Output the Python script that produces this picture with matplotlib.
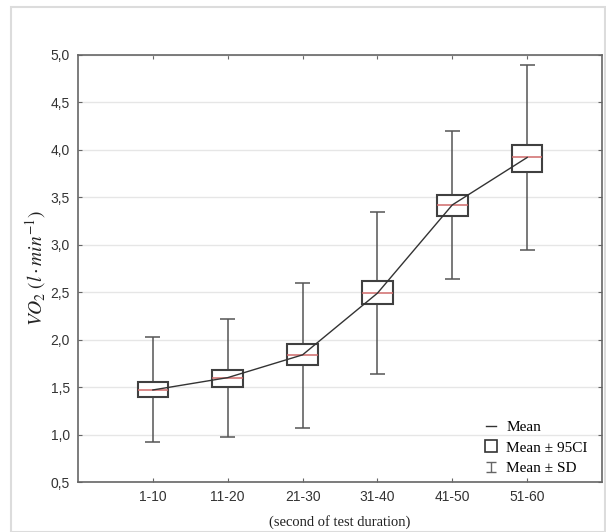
import matplotlib
matplotlib.use("Agg")
import matplotlib.pyplot as plt
from matplotlib.lines import Line2D
from matplotlib.patches import Rectangle
from matplotlib.path import Path
import numpy as np

plt.rcParams["mathtext.fontset"] = "stix"

categories = ["1-10", "11-20", "21-30", "31-40", "41-50", "51-60"]
mean = [1.47, 1.60, 1.84, 2.49, 3.42, 3.92]
ci_low = [1.40, 1.50, 1.73, 2.38, 3.30, 3.77]
ci_high = [1.55, 1.68, 1.95, 2.62, 3.52, 4.05]
sd_low = [0.92, 0.97, 1.07, 1.64, 2.64, 2.95]
sd_high = [2.03, 2.22, 2.60, 3.35, 4.20, 4.89]
yticks = [0.5, 1.0, 1.5, 2.0, 2.5, 3.0, 3.5, 4.0, 4.5, 5.0]

W, H = 606, 532
fig = plt.figure(figsize=(W / 100, H / 100), dpi=100)
ax = fig.add_axes([78 / W, (H - 482) / H, (602 - 78) / W, (482 - 55) / H])

x = np.arange(1, len(categories) + 1)
box_w = 0.41
cap_w = 0.2
edge = "#404040"

ax.set_xlim(0, 7)
ax.set_ylim(0.5, 5.0)
ax.set_yticks(yticks)
ax.set_yticklabels([f"{v:.1f}".replace(".", ",") for v in yticks])
ax.set_xticks(x)
ax.set_xticklabels(categories)
ax.yaxis.grid(True, color="#e6e6e6", lw=1.0)
ax.set_axisbelow(True)

for xi, m, cl, ch, sl, sh in zip(x, mean, ci_low, ci_high, sd_low, sd_high):
    ax.vlines(xi, sl, cl, color="#555555", lw=1.1, zorder=2)
    ax.vlines(xi, ch, sh, color="#555555", lw=1.1, zorder=2)
    ax.hlines([sl, sh], xi - cap_w / 2, xi + cap_w / 2, color="#555555", lw=1.1, zorder=2)
    ax.add_patch(Rectangle((xi - box_w / 2, cl), box_w, ch - cl, facecolor="white",
                           edgecolor=edge, lw=1.5, zorder=3))
    ax.hlines(m, xi - box_w / 2, xi + box_w / 2, color="#d06a6a", lw=1.1, zorder=4)

ax.plot(x, mean, color="#333333", lw=1.0, zorder=5)

for s in ax.spines.values():
    s.set_color("#666666")
    s.set_linewidth(1.2)

ax.tick_params(axis="both", direction="in", length=3, color="#666666",
               top=True, right=True, labelsize=10, labelcolor="#333333", pad=6)
for lab in ax.get_xticklabels() + ax.get_yticklabels():
    lab.set_fontfamily("Liberation Sans")

ax.set_xlabel("(second of test duration)", fontfamily="Liberation Serif",
              fontsize=10.5, color="#222222", labelpad=8)
ax.set_ylabel(r"$VO_2\;(l\cdot min^{-1})$", fontsize=14, color="#222222", labelpad=2)

sd_path = Path([(-0.9, 1), (0.9, 1), (0, 1), (0, -1), (-0.9, -1), (0.9, -1)],
               [Path.MOVETO, Path.LINETO, Path.MOVETO, Path.LINETO, Path.MOVETO, Path.LINETO])
handles = [
    Line2D([], [], color="#333333", lw=1.0),
    Line2D([], [], marker="s", markersize=8.5, markerfacecolor="white",
           markeredgecolor="#333333", markeredgewidth=1.2, lw=0),
    Line2D([], [], marker=sd_path, markersize=7.5, markerfacecolor="none",
           markeredgecolor="#666666", markeredgewidth=1.0, lw=0),
]
leg = ax.legend(handles, ["Mean", "Mean ± 95CI", "Mean ± SD"], loc="lower right",
                bbox_to_anchor=(0.999, -0.016), frameon=False, handlelength=0.6,
                handletextpad=0.7, labelspacing=0.45,
                prop={"family": "Liberation Serif", "size": 11})

fig.patches.append(Rectangle((11 / W, 0), 1 - 12 / W, 1 - 7 / H, transform=fig.transFigure,
                             fill=False, edgecolor="#dcdcdc", lw=1.5))

fig.savefig("out.png", dpi=100)
